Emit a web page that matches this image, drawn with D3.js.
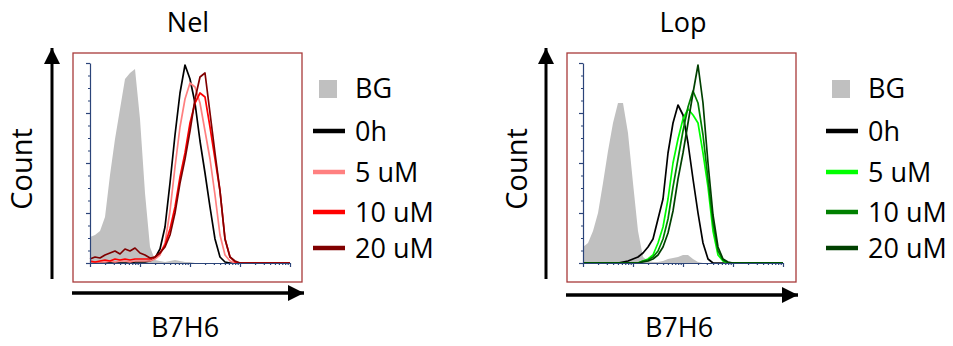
<!DOCTYPE html>
<html>
<head>
<meta charset="utf-8">
<script src="https://cdn.jsdelivr.net/npm/d3@7"></script>
<style>
  body { margin: 0; background: #fff; }
  text { font-family: "Open Sans", sans-serif; fill: #000; }
</style>
</head>
<body>
<svg id="chart" width="953" height="346"></svg>
<script>
// Fluorescence channel bins (log10 units)
const logBins = [0, 0.1, 0.2, 0.3, 0.4, 0.5, 0.6, 0.7, 0.8, 0.9,
  1.0, 1.1, 1.2, 1.3, 1.4, 1.5, 1.6, 1.7, 1.8, 1.9,
  2.0, 2.1, 2.2, 2.3, 2.4, 2.5, 2.6, 2.7, 2.8, 2.9,
  3.0, 3.1, 3.2, 3.3, 3.4, 3.5, 3.6, 3.7, 3.8, 3.9, 4.0];

// Series labels
const seriesNames = ["0h", "5 uM", "10 uM", "20 uM"];

// Nel panel (% of max)
const nelBG = [13, 14, 16, 23, 44, 62, 77, 92, 95, 97, 72, 35, 8, 1.5, 1, 0.5, 1, 1.5, 1, 0.5, 0.5,
  0, 0, 0, 0, 0, 0, 0, 0, 0, 0, 0, 0, 0, 0, 0, 0, 0, 0, 0, 0];
const nel0h = [0, 0, 0, 0, 0, 0, 0, 0, 0, 0.5, 0.5, 0.5, 1, 2.5, 7, 18, 40, 64, 85, 99, 92,
  80, 61, 45, 28, 12, 3, 0.5, 0, 0, 0, 0, 0, 0, 0, 0, 0, 0, 0, 0, 0];
const nel5 = [0.5, 0.5, 0.5, 0.5, 1, 0.5, 1, 1, 0.5, 1, 1, 1, 1, 2, 4, 10, 26, 48, 68, 82, 90,
  88, 80, 66, 52, 34, 14, 4, 1, 0, 0, 0, 0, 0, 0, 0, 0, 0, 0, 0, 0];
const nel10 = [1, 0.5, 1, 1.5, 1, 2, 1.5, 2, 1.5, 2, 2, 2, 2, 3, 5, 9, 17, 28, 43, 55, 70,
  80, 85, 83, 68, 52, 36, 12, 3, 0.5, 0, 0, 0, 0, 0, 0, 0, 0, 0, 0, 0];
const nel20 = [2, 3, 2.5, 4, 5, 6, 4.5, 7, 6, 7.5, 5, 4, 2.5, 3, 5, 8, 14, 25, 40, 52, 66,
  82, 93, 95, 75, 55, 36, 12, 3, 1, 0, 0, 0, 0, 0, 0, 0, 0, 0, 0, 0];

// Lop panel (% of max)
const lopBG = [8, 10, 16, 25, 40, 56, 70, 80, 80, 65, 40, 16, 3, 1, 0.5, 0.5, 1, 2, 2.5, 3, 4,
  4, 2, 0.5, 0, 0, 0, 0, 0, 0, 0, 0, 0, 0, 0, 0, 0, 0, 0, 0, 0];
const lop0h = [0, 0, 0, 0, 0, 0, 0, 0, 0.5, 1, 2, 3, 5, 8, 12, 22, 32, 55, 70, 79, 74,
  60, 42, 25, 10, 2, 0, 0, 0, 0, 0, 0, 0, 0, 0, 0, 0, 0, 0, 0, 0];
const lop5 = [0, 0, 0, 0, 0, 0, 0, 0, 0, 0, 0, 0, 1, 2, 4, 10, 18, 32, 50, 62, 72,
  77, 74, 70, 55, 38, 16, 4, 1, 0, 0, 0, 0, 0, 0, 0, 0, 0, 0, 0, 0];
const lop10 = [0, 0, 0, 0, 0, 0, 0, 0, 0, 0, 0, 0, 1, 1.5, 3, 6, 12, 22, 38, 52, 66,
  78, 86, 80, 64, 42, 20, 6, 1.5, 0, 0, 0, 0, 0, 0, 0, 0, 0, 0, 0, 0];
const lop20 = [0, 0, 0, 0, 0, 0, 0, 0, 0, 0, 0, 0, 0.5, 1, 2, 4, 8, 15, 26, 42, 55,
  70, 85, 99, 80, 50, 24, 8, 2, 0.5, 0, 0, 0, 0, 0, 0, 0, 0, 0, 0, 0];

const svg = d3.select("#chart");

// Arrowhead marker
svg.append("defs").append("marker")
  .attr("id", "arrow")
  .attr("viewBox", "0 0 10 10")
  .attr("refX", 10).attr("refY", 5)
  .attr("markerUnits", "userSpaceOnUse")
  .attr("markerWidth", 16).attr("markerHeight", 16)
  .attr("orient", "auto")
  .append("path")
  .attr("d", "M0,0 L10,5 L0,10 Z")
  .attr("fill", "#000");

function drawPanel(p) {
  const g = svg.append("g");

  // Title
  g.append("text")
    .attr("x", p.titleX).attr("y", 32)
    .attr("text-anchor", "middle")
    .attr("font-size", 27)
    .text(p.title);

  // Frame
  g.append("rect")
    .attr("x", p.boxX).attr("y", 53)
    .attr("width", 229).attr("height", 229)
    .attr("fill", "none")
    .attr("stroke", "#a83a3a")
    .attr("stroke-width", 1.3);

  // Scales
  const x = d3.scaleLog().domain([1, 10000]).range([p.plotX, p.plotX + 200]);
  const y = d3.scaleLinear().domain([0, 100]).range([263, 63]);

  // Background histogram
  g.append("path")
    .datum(logBins.map((b, i) => [b, p.bg[i]]))
    .attr("fill", "#c0c0c0")
    .attr("d", d3.area()
      .x(d => x(Math.pow(10, d[0])))
      .y0(y(0))
      .y1(d => y(d[1])));

  // Treatment histograms
  p.series.forEach((s, k) => {
    g.append("path")
      .datum(logBins.map((b, i) => [b, s[i]]))
      .attr("fill", "none")
      .attr("stroke", p.colors[k])
      .attr("stroke-width", 1.7)
      .attr("stroke-linejoin", "round")
      .attr("d", d3.line()
        .x(d => x(Math.pow(10, d[0])))
        .y(d => y(d[1])));
  });

  // Inner axes
  const majorX = [1, 10, 100, 1000, 10000];
  const minorX = [];
  [1, 10, 100, 1000].forEach(d => [2, 3, 4, 5, 6, 7, 8, 9].forEach(m => minorX.push(d * m)));

  const axisColor = "#2b4479";
  const xMinor = g.append("g")
    .attr("transform", "translate(0,263)")
    .call(d3.axisBottom(x).tickValues(minorX).tickSize(2).tickFormat(""));
  const xMajor = g.append("g")
    .attr("transform", "translate(0,263)")
    .call(d3.axisBottom(x).tickValues(majorX).tickSize(4).tickSizeOuter(0).tickFormat(""));

  const yMinor = g.append("g")
    .attr("transform", "translate(" + p.plotX + ",0)")
    .call(d3.axisLeft(y).tickValues(d3.range(0, 100.1, 6.25)).tickSize(2).tickFormat(""));
  const yMajor = g.append("g")
    .attr("transform", "translate(" + p.plotX + ",0)")
    .call(d3.axisLeft(y).tickValues([0, 25, 50, 75, 100]).tickSize(4).tickSizeOuter(0).tickFormat(""));

  [xMinor, xMajor, yMinor, yMajor].forEach(a => {
    a.selectAll("path, line").attr("stroke", axisColor).attr("stroke-width", 1.2);
  });
  xMinor.select(".domain").remove();
  yMinor.select(".domain").remove();

  // Outer arrows
  g.append("line")
    .attr("x1", p.arrowY).attr("y1", 279)
    .attr("x2", p.arrowY).attr("y2", 48)
    .attr("stroke", "#000").attr("stroke-width", 3)
    .attr("marker-end", "url(#arrow)");
  g.append("line")
    .attr("x1", p.boxX - 1).attr("y1", p.arrowXY)
    .attr("x2", p.boxX + 231).attr("y2", p.arrowXY)
    .attr("stroke", "#000").attr("stroke-width", 3.5)
    .attr("marker-end", "url(#arrow)");

  // Axis labels
  g.append("text")
    .attr("transform", "translate(" + (p.countX) + ",169) rotate(-90)")
    .attr("text-anchor", "middle")
    .attr("font-size", 29)
    .text("Count");
  g.append("text")
    .attr("x", p.labelX).attr("y", 337)
    .attr("text-anchor", "middle")
    .attr("font-size", 27)
    .text("B7H6");

  // Legend
  const lg = g.append("g");
  lg.append("rect")
    .attr("x", p.legX + 6).attr("y", 80)
    .attr("width", 18).attr("height", 18)
    .attr("fill", "#c0c0c0");
  lg.append("text")
    .attr("x", p.legX + 42).attr("y", 98)
    .attr("font-size", 27)
    .text("BG");
  const legY = [131, 172, 212, 248];
  seriesNames.forEach((name, k) => {
    lg.append("line")
      .attr("x1", p.legX).attr("x2", p.legX + 32)
      .attr("y1", legY[k]).attr("y2", legY[k])
      .attr("stroke", p.colors[k]).attr("stroke-width", 4.5);
    lg.append("text")
      .attr("x", p.legX + 42).attr("y", legY[k] + 10)
      .attr("font-size", 27)
      .text(name);
  });
}

drawPanel({
  title: "Nel", titleX: 188, boxX: 73, plotX: 90,
  arrowY: 52, arrowXY: 293, countX: 32, labelX: 185, legX: 313,
  bg: nelBG, series: [nel0h, nel5, nel10, nel20],
  colors: ["#000000", "#ff8080", "#ff0000", "#800000"]
});
drawPanel({
  title: "Lop", titleX: 683, boxX: 567, plotX: 583,
  arrowY: 546, arrowXY: 295, countX: 527, labelX: 679, legX: 826,
  bg: lopBG, series: [lop0h, lop5, lop10, lop20],
  colors: ["#000000", "#00ff00", "#008000", "#004000"]
});
</script>
</body>
</html>
